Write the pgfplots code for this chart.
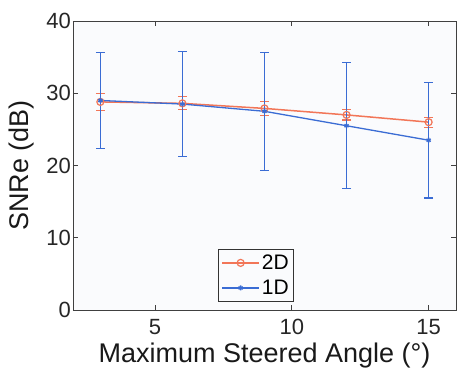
\documentclass[border=0pt]{standalone}
\usepackage{pgfplots}
\pgfplotsset{compat=1.18}
\usepackage{fontspec}
\setmainfont{Liberation Sans}
\definecolor{cTwo}{RGB}{242,118,88}
\definecolor{cOne}{RGB}{58,108,212}
\definecolor{bgc}{RGB}{250,251,253}
\begin{document}
\begin{tikzpicture}
\begin{axis}[
  name=ax,
  scale only axis,
  width=383pt, height=289pt,
  xmin=2, xmax=16, ymin=0, ymax=40,
  xtick={5,10,15}, ytick={0,10,20,30,40},
  tick align=inside,
  major tick length=5pt,
  axis background/.style={fill=bgc},
  axis line style={black!75, line width=0.8pt},
  every tick/.style={black!75, line width=0.8pt},
  tick label style={font=\fontsize{22}{24}\selectfont, text=black!85},
  xticklabel style={inner sep=2pt, yshift=-7pt},
  yticklabel style={inner sep=2pt},
  /pgf/number format/assume math mode=true,
  xlabel={Maximum Steered Angle (°)},
  ylabel={SNRe (dB)},
  label style={font=\fontsize{27}{29}\selectfont, text=black!90},
  xlabel style={inner sep=0pt, yshift=-6pt},
  ylabel style={yshift=7pt},
  legend style={at={(0.478,0.03)}, anchor=south, draw=black!80, line width=0.8pt,
    font=\fontsize{21}{23}\selectfont, inner sep=3pt, row sep=5pt, fill=bgc},
  legend cell align=left,
  legend image code/.code={\draw[mark repeat=2,mark phase=2,#1] plot coordinates {(0cm,0cm)(0.65cm,0cm)(1.3cm,0cm)};},
]
\addplot[color=cTwo, line width=1.5pt, mark=o, mark size=3.5pt, mark options={line width=1.2pt},
  error bars/.cd, y dir=both, y explicit,
  error bar style={line width=1.1pt, color=cTwo},
  error mark options={rotate=90, mark size=4.5pt, line width=1.1pt, color=cTwo}]
coordinates {
  (3,28.8) +- (0,1.2)
  (6,28.6) +- (0,0.9)
  (9,27.9) +- (0,1.0)
  (12,27.0) +- (0,0.7)
  (15,26.0) +- (0,0.7)
};
\addlegendentry{2D}
\addplot[color=cOne, line width=1.3pt, mark=asterisk, mark size=2.5pt,
  error bars/.cd, y dir=both, y explicit,
  error bar style={line width=1.1pt, color=cOne},
  error mark options={rotate=90, mark size=4.5pt, line width=1.1pt, color=cOne}]
coordinates {
  (3,29.0) +- (0,6.7)
  (6,28.5) +- (0,7.3)
  (9,27.5) +- (0,8.2)
  (12,25.5) +- (0,8.7)
  (15,23.5) +- (0,8.0)
};
\addlegendentry{1D}
\end{axis}
\path[use as bounding box] ([xshift=-73pt,yshift=-58pt]ax.south west) rectangle ([xshift=2pt,yshift=21pt]ax.north east);
\end{tikzpicture}
\end{document}
